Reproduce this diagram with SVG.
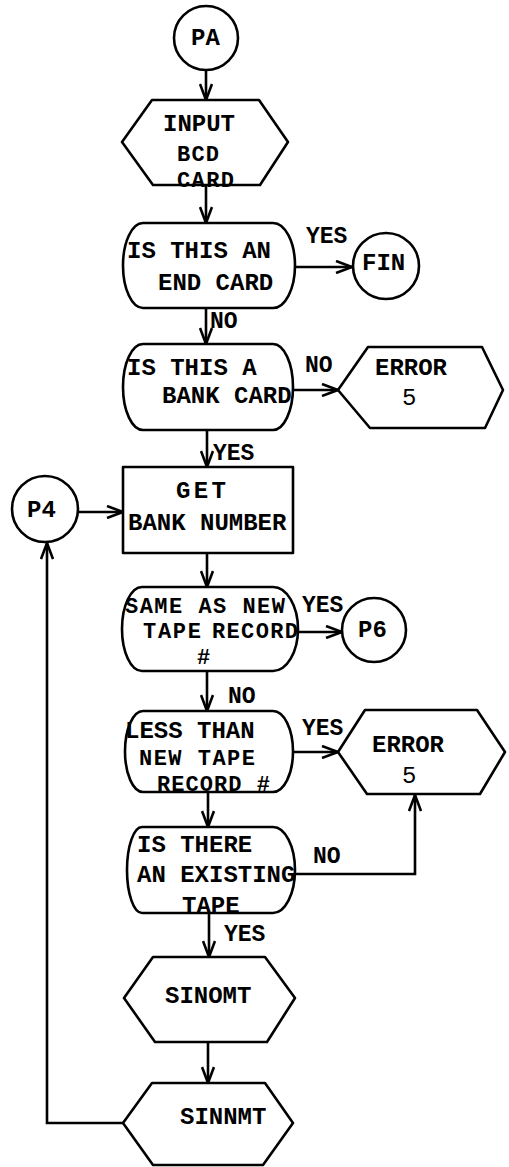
<svg xmlns="http://www.w3.org/2000/svg" width="509" height="1167" viewBox="0 0 509 1167">
<style>
.s{fill:#fff;stroke:#000;stroke-width:2.6;stroke-linejoin:round}
.t{font-family:"Liberation Mono","Courier New",monospace;font-weight:bold;font-size:24px;fill:#000}
.k{font-family:"Liberation Mono","Courier New",monospace;font-weight:bold;font-size:22px;fill:#000}
.l{font-family:"Liberation Mono","Courier New",monospace;font-weight:bold;font-size:23px;fill:#000}
.n{font-family:"Liberation Mono","Courier New",monospace;font-weight:normal;font-size:24px;fill:#000}
.c{fill:none;stroke:#000;stroke-width:2.6}
.a{marker-end:url(#ah)}
</style>
<defs>
<marker id="ah" viewBox="0 0 18 14" refX="17" refY="7" markerWidth="18" markerHeight="14" markerUnits="userSpaceOnUse" orient="auto">
<path d="M1,1 L17,7 L1,13" fill="none" stroke="#000" stroke-width="2.6"/>
</marker>
</defs>
<rect width="509" height="1167" fill="#fff"/>
<g id="connectors">
<line class="c a" x1="206" y1="70" x2="206" y2="100"/>
<line class="c a" x1="206" y1="185" x2="206" y2="223"/>
<line class="c a" x1="295" y1="267" x2="352" y2="267"/>
<line class="c a" x1="206" y1="308" x2="206" y2="344"/>
<line class="c a" x1="293" y1="390" x2="338" y2="390"/>
<line class="c a" x1="207" y1="430" x2="207" y2="467"/>
<line class="c a" x1="78" y1="512" x2="123" y2="512"/>
<line class="c a" x1="207" y1="553" x2="207" y2="587"/>
<line class="c a" x1="298" y1="632" x2="342" y2="632"/>
<line class="c a" x1="207" y1="671" x2="207" y2="711"/>
<line class="c a" x1="293" y1="752" x2="338" y2="752"/>
<line class="c a" x1="208" y1="792" x2="208" y2="827"/>
<polyline class="c a" points="295,874 415,874 415,795"/>
<line class="c a" x1="209" y1="913" x2="209" y2="957"/>
<line class="c a" x1="208" y1="1042" x2="208" y2="1083"/>
<polyline class="c a" points="123,1123 47,1123 47,543"/>
<text class="l" x="306" y="243">YES</text>
<text class="l" x="210" y="328">NO</text>
<text class="l" x="305" y="372">NO</text>
<text class="l" x="213" y="460">YES</text>
<text class="l" x="302" y="612">YES</text>
<text class="l" x="228" y="703">NO</text>
<text class="l" x="302" y="735">YES</text>
<text class="l" x="313" y="863">NO</text>
<text class="l" x="224" y="941">YES</text>
</g>
<g id="PA">
<circle class="s" cx="206" cy="38" r="32"/>
<text class="t" x="191" y="45">PA</text>
</g>
<g id="input">
<polygon class="s" points="152,100 259,100 288,142 260,185 153,185 122,142"/>
<text class="t" x="163" y="131">INPUT</text>
<text class="k" x="177" y="161" textLength="42">BCD</text>
<text class="k" x="177" y="187" textLength="57">CARD</text>
</g>
<g id="endcard">
<path class="s" d="M143,223 L273,223 A22,42.5 0 0 1 273,308 L143,308 A20,42.5 0 0 1 143,223 Z"/>
<text class="t" x="127" y="258">IS THIS AN</text>
<text class="t" x="158" y="290">END CARD</text>
</g>
<g id="FIN">
<circle class="s" cx="386" cy="266" r="33"/>
<text class="t" x="362" y="270">FIN</text>
</g>
<g id="bankcard">
<path class="s" d="M143,344 L273,344 A20,43 0 0 1 273,430 L143,430 A20,43 0 0 1 143,344 Z"/>
<text class="t" x="127" y="375">IS THIS A</text>
<text class="t" x="162" y="403">BANK CARD</text>
</g>
<g id="error1">
<polygon class="s" points="368,347 482,347 503,390 485,428 370,428 338,390"/>
<text class="t" x="375" y="375">ERROR</text>
<text class="n" x="402" y="405">5</text>
</g>
<g id="getbank">
<rect class="s" x="123" y="467" width="170" height="86"/>
<text class="t" x="176" y="498" textLength="50" lengthAdjust="spacing">GET</text>
<text class="t" x="128" y="530">BANK NUMBER</text>
</g>
<g id="P4">
<circle class="s" cx="45" cy="509" r="33"/>
<text class="t" x="27" y="517">P4</text>
</g>
<g id="sameas">
<path class="s" d="M142,587 L273,587 A25,42 0 0 1 273,671 L142,671 A20,42 0 0 1 142,587 Z"/>
<text class="k" x="125" y="613" textLength="160">SAME AS NEW</text>
<text class="k" x="143" y="638" textLength="58">TAPE</text>
<text class="k" x="212" y="638" textLength="86">RECORD</text>
<text class="k" x="197" y="664">#</text>
</g>
<g id="P6">
<circle class="s" cx="374" cy="630" r="32"/>
<text class="t" x="358" y="637">P6</text>
</g>
<g id="lessthan">
<path class="s" d="M143,711 L273,711 A20,40.5 0 0 1 273,792 L143,792 A18,40.5 0 0 1 143,711 Z"/>
<text class="t" x="125" y="738">LESS THAN</text>
<text class="k" x="139" y="765" textLength="116">NEW TAPE</text>
<text class="k" x="157" y="791" textLength="113">RECORD #</text>
</g>
<g id="error2">
<polygon class="s" points="365,710 477,710 505,752 480,794 367,794 338,752"/>
<text class="t" x="372" y="752">ERROR</text>
<text class="n" x="402" y="783">5</text>
</g>
<g id="existing">
<path class="s" d="M142,827 L273,827 A22,43 0 0 1 273,913 L142,913 A15,43 0 0 1 142,827 Z"/>
<text class="t" x="137" y="852">IS THERE</text>
<text class="t" x="137" y="882">AN EXISTING</text>
<text class="t" x="182" y="913">TAPE</text>
</g>
<g id="SINOMT">
<polygon class="s" points="153,957 265,957 295,998 267,1042 155,1042 124,998"/>
<text class="t" x="165" y="1003">SINOMT</text>
</g>
<g id="SINNMT">
<polygon class="s" points="152,1083 265,1083 293,1123 263,1165 153,1165 123,1123"/>
<text class="t" x="180" y="1124">SINNMT</text>
</g>
</svg>
